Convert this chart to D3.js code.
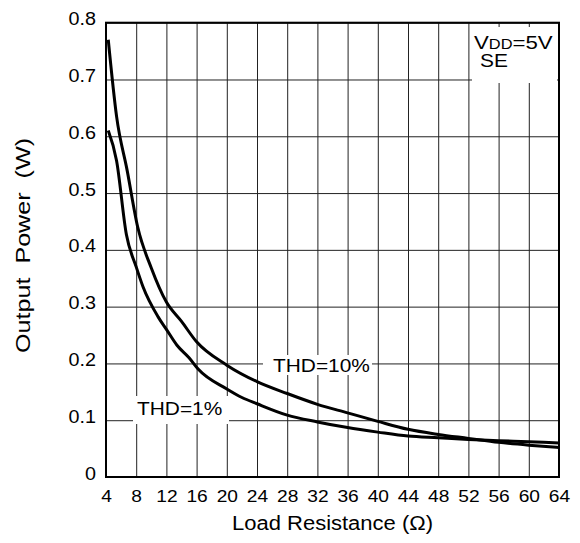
<!DOCTYPE html>
<html>
<head>
<meta charset="utf-8">
<script src="https://cdn.jsdelivr.net/npm/d3@7"></script>
<style>
  body { margin: 0; background: #fff; }
  text { font-family: Arial, "Liberation Sans", sans-serif; fill: #000; }
</style>
</head>
<body>
<div id="chart"></div>
<script>
// tick values
const xTicks = [4, 8, 12, 16, 20, 24, 28, 32, 36, 40, 44, 48, 52, 56, 60, 64];
const yTicks = [0, 0.1, 0.2, 0.3, 0.4, 0.5, 0.6, 0.7, 0.8];
const yTickLabels = ["0", "0.1", "0.2", "0.3", "0.4", "0.5", "0.6", "0.7", "0.8"];

// THD=10% curve
const res10 = [4.3, 5.4, 6.8, 8.2, 10, 12, 14, 16, 20, 24, 28, 32, 36, 40, 44, 48, 52, 56, 60, 64];
const pow10 = [0.77, 0.635, 0.54, 0.44, 0.368, 0.308, 0.274, 0.238, 0.197, 0.168, 0.147, 0.128, 0.113, 0.098, 0.084, 0.075, 0.068, 0.061, 0.056, 0.052];

// THD=1% curve
const res1 = [4.3, 5.4, 6.7, 8, 8.9, 10.9, 12, 13.4, 15, 16.2, 20, 22, 24, 28, 32, 36, 40, 44, 48, 52, 56, 60, 64];
const pow1 = [0.61, 0.557, 0.427, 0.37, 0.335, 0.282, 0.26, 0.232, 0.21, 0.19, 0.155, 0.14, 0.129, 0.109, 0.097, 0.087, 0.079, 0.072, 0.069, 0.066, 0.064, 0.062, 0.06];

var width = 580, height = 543;
var plotL = 106, plotR = 559, plotT = 22.7, plotB = 477;
var stretch = 1.13; // the source font is a bit wider than Arial

var svg = d3.select("#chart").append("svg")
  .attr("width", width)
  .attr("height", height);

var x = d3.scaleLinear().domain([4, 64]).range([plotL, plotR]);
var y = d3.scaleLinear().domain([0, 0.8]).range([plotB, plotT]);

// vertical grid + x tick labels
var gx = svg.append("g")
  .attr("transform", "translate(0," + plotB + ")")
  .call(d3.axisBottom(x).tickValues(xTicks).tickSize(-(plotB - plotT)).tickFormat(d3.format("d")))
  .attr("font-family", null).attr("font-size", null);
gx.select(".domain").remove();
gx.selectAll(".tick line").attr("stroke", "#222");
gx.selectAll(".tick text")
  .attr("y", 25).attr("dy", 0)
  .attr("font-size", 17)
  .attr("transform", "scale(" + stretch + ",1)");

// horizontal grid + y tick labels
var gy = svg.append("g")
  .attr("transform", "translate(" + plotL + ",0)")
  .call(d3.axisLeft(y).tickValues(yTicks).tickSize(-(plotR - plotL)).tickFormat((d, i) => yTickLabels[i]))
  .attr("font-family", null).attr("font-size", null);
gy.select(".domain").remove();
gy.selectAll(".tick line").attr("stroke", "#222");
gy.selectAll(".tick text")
  .attr("x", -10 / stretch).attr("y", 2).attr("dy", 0)
  .attr("font-size", 17.5)
  .attr("transform", "scale(" + stretch + ",1)");

// white boxes behind the labels
svg.append("rect").attr("x", 472).attr("y", 27).attr("width", 85).attr("height", 56).attr("fill", "#fff");
svg.append("rect").attr("x", 263).attr("y", 355).attr("width", 109).attr("height", 20).attr("fill", "#fff");
svg.append("rect").attr("x", 133).attr("y", 396).attr("width", 96).attr("height", 28).attr("fill", "#fff");

// frame
svg.append("rect")
  .attr("x", plotL).attr("y", plotT)
  .attr("width", plotR - plotL).attr("height", plotB - plotT)
  .attr("fill", "none").attr("stroke", "#000").attr("stroke-width", 2);

// curves
var line = d3.line()
  .x(d => x(d[0]))
  .y(d => y(d[1]))
  .curve(d3.curveMonotoneX);

[[res10, pow10], [res1, pow1]].forEach(function(s) {
  svg.append("path")
    .datum(d3.zip(s[0], s[1]))
    .attr("d", line)
    .attr("fill", "none")
    .attr("stroke", "#000")
    .attr("stroke-width", 3)
    .attr("stroke-linejoin", "round");
});

// annotations
function label(txt, tx, ty, size) {
  return svg.append("text")
    .attr("transform", "translate(" + tx + "," + ty + ") scale(" + stretch + ",1)")
    .attr("font-size", size)
    .text(txt);
}
label("THD=10%", 273, 372, 18.5);
label("THD=1%", 137, 415, 18.5);

var vdd = svg.append("text")
  .attr("transform", "translate(474,49) scale(1.17,1)")
  .attr("font-size", 19);
vdd.append("tspan").text("V");
vdd.append("tspan").attr("font-size", 14).text("DD");
vdd.append("tspan").text("=5V");
svg.append("text")
  .attr("transform", "translate(480,67) scale(1.1,1)")
  .attr("font-size", 19)
  .text("SE");

// axis titles
svg.append("text")
  .attr("x", (plotL + plotR) / 2).attr("y", 530)
  .attr("text-anchor", "middle")
  .attr("font-size", 19.5)
  .attr("textLength", 201).attr("lengthAdjust", "spacingAndGlyphs")
  .text("Load Resistance (\u03A9)");

svg.append("text")
  .attr("transform", "translate(29.5,245.5) rotate(-90)")
  .attr("text-anchor", "middle")
  .attr("font-size", 20)
  .style("white-space", "pre")
  .attr("textLength", 215).attr("lengthAdjust", "spacingAndGlyphs")
  .text("Output  Power  (W)");
</script>
</body>
</html>
